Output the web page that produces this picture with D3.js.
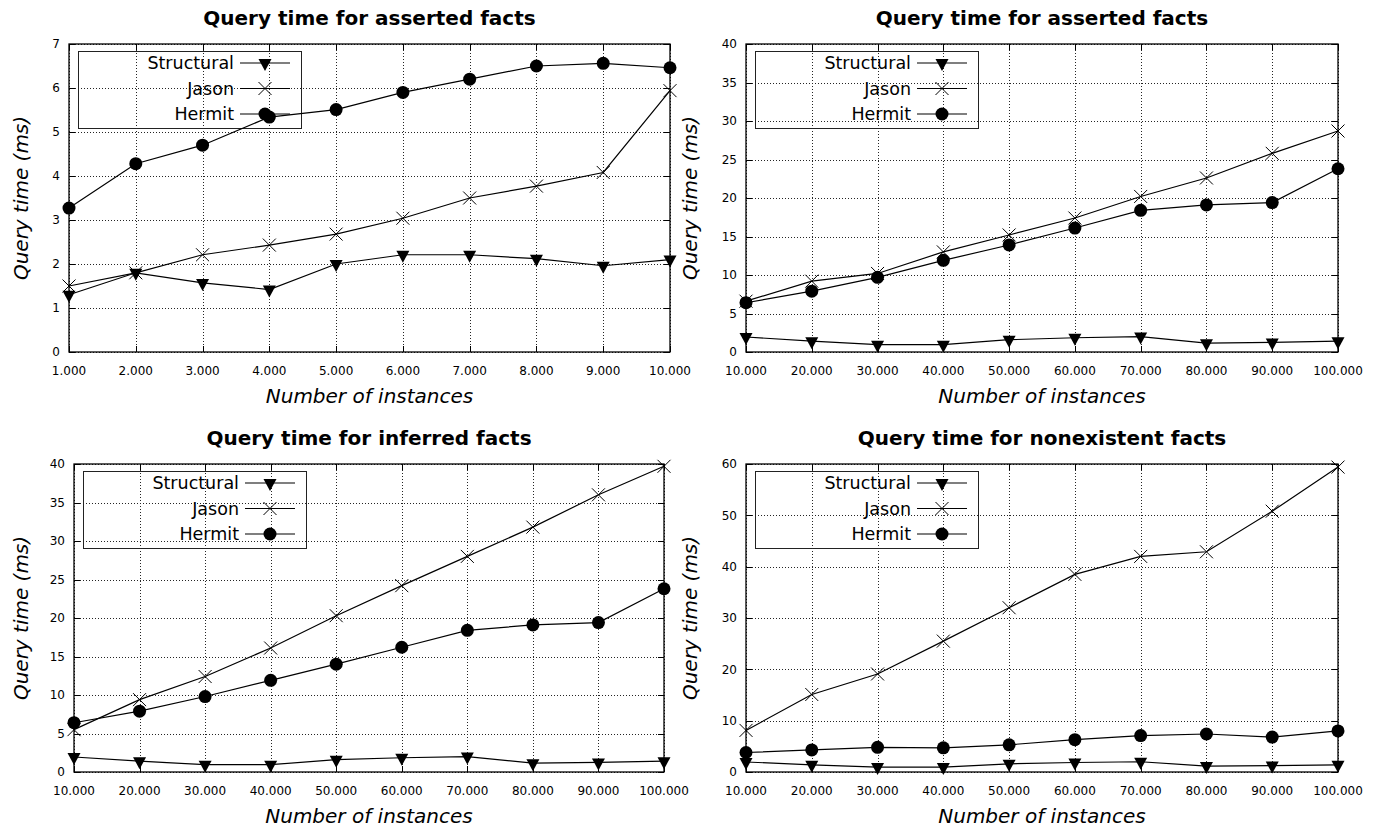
<!DOCTYPE html>
<html>
<head>
<meta charset="utf-8">
<script src="https://cdn.jsdelivr.net/npm/d3@7"></script>
<style>
  html, body { margin: 0; padding: 0; background: #fff; }
  svg { display: block; font-family: "DejaVu Sans", sans-serif; }
</style>
</head>
<body>
<svg id="chart" width="1379" height="827"></svg>
<script>
// ---------------- data ----------------
const seriesNames = ["Structural", "Jason", "Hermit"];

const xValuesSmall = [1000, 2000, 3000, 4000, 5000, 6000, 7000, 8000, 9000, 10000];
const xTickLabelsSmall = ["1.000", "2.000", "3.000", "4.000", "5.000", "6.000", "7.000", "8.000", "9.000", "10.000"];
const xValuesLarge = [10000, 20000, 30000, 40000, 50000, 60000, 70000, 80000, 90000, 100000];
const xTickLabelsLarge = ["10.000", "20.000", "30.000", "40.000", "50.000", "60.000", "70.000", "80.000", "90.000", "100.000"];

// Panel 1: Query time for asserted facts (1.000 - 10.000)
const structuralAsserted1 = [1.3, 1.8, 1.57, 1.42, 2.0, 2.21, 2.21, 2.12, 1.96, 2.1];
const jasonAsserted1      = [1.5, 1.8, 2.21, 2.43, 2.68, 3.04, 3.5, 3.77, 4.08, 5.94];
const hermitAsserted1     = [3.27, 4.28, 4.7, 5.34, 5.51, 5.9, 6.2, 6.5, 6.56, 6.46];

// Panel 2: Query time for asserted facts (10.000 - 100.000)
const structuralAsserted2 = [1.95, 1.4, 0.95, 0.95, 1.6, 1.85, 2.0, 1.15, 1.25, 1.4];
const jasonAsserted2      = [6.6, 9.2, 10.2, 13.0, 15.2, 17.4, 20.2, 22.6, 25.8, 28.7];
const hermitAsserted2     = [6.4, 7.9, 9.7, 11.9, 13.9, 16.1, 18.4, 19.1, 19.4, 23.8];

// Panel 3: Query time for inferred facts
const structuralInferred = [1.95, 1.4, 0.95, 0.95, 1.6, 1.85, 2.0, 1.15, 1.25, 1.4];
const jasonInferred      = [5.5, 9.4, 12.4, 16.1, 20.3, 24.2, 28.0, 31.8, 36.0, 39.7];
const hermitInferred     = [6.4, 7.9, 9.8, 11.9, 14.0, 16.2, 18.4, 19.1, 19.4, 23.8];

// Panel 4: Query time for nonexistent facts
const structuralNonexistent = [1.95, 1.4, 0.95, 0.95, 1.6, 1.85, 2.0, 1.15, 1.25, 1.4];
const jasonNonexistent      = [8.1, 15.1, 19.1, 25.5, 32.0, 38.5, 42.0, 42.9, 50.8, 59.4];
const hermitNonexistent     = [3.8, 4.3, 4.8, 4.7, 5.3, 6.3, 7.1, 7.4, 6.8, 8.0];

const titles = ["Query time for asserted facts", "Query time for asserted facts",
                "Query time for inferred facts", "Query time for nonexistent facts"];
const yMaxes = [7, 40, 40, 60];
const ySteps = [1, 5, 5, 10];
const xLabelText = "Number of instances";
const yLabelText = "Query time (ms)";

// ---------------- layout ----------------
const panels = [
  { left: 69,  right: 670,  top: 44,  bottom: 352, ylabX: 28,  xs: xValuesSmall, xl: xTickLabelsSmall,
    series: [structuralAsserted1, jasonAsserted1, hermitAsserted1] },
  { left: 746, right: 1338, top: 44,  bottom: 352, ylabX: 697, xs: xValuesLarge, xl: xTickLabelsLarge,
    series: [structuralAsserted2, jasonAsserted2, hermitAsserted2] },
  { left: 74,  right: 664,  top: 464, bottom: 772, ylabX: 28,  xs: xValuesLarge, xl: xTickLabelsLarge,
    series: [structuralInferred, jasonInferred, hermitInferred] },
  { left: 746, right: 1338, top: 464, bottom: 772, ylabX: 697, xs: xValuesLarge, xl: xTickLabelsLarge,
    series: [structuralNonexistent, jasonNonexistent, hermitNonexistent] }
];

const svg = d3.select("#chart");

function drawMarker(g, type, x, y) {
  if (type === 0) {
    // filled triangle pointing down, centroid at (x,y)
    const w = 6.5, h = 12;
    g.append("path")
      .attr("d", `M${x - w},${y - h / 3}L${x + w},${y - h / 3}L${x},${y + 2 * h / 3}Z`)
      .attr("fill", "#000");
  } else if (type === 1) {
    const s = 6.5;
    g.append("path")
      .attr("d", `M${x - s},${y - s}L${x + s},${y + s}M${x - s},${y + s}L${x + s},${y - s}`)
      .attr("stroke", "#000").attr("stroke-width", 1).attr("fill", "none");
  } else {
    g.append("circle").attr("cx", x).attr("cy", y).attr("r", 6.5).attr("fill", "#000");
  }
}

panels.forEach((p, i) => {
  const g = svg.append("g");
  const x = d3.scaleLinear().domain([p.xs[0], p.xs[p.xs.length - 1]]).range([p.left, p.right]);
  const y = d3.scaleLinear().domain([0, yMaxes[i]]).range([p.bottom, p.top]);
  const yTicks = d3.range(0, yMaxes[i] + ySteps[i] / 2, ySteps[i]);

  // grid
  const grid = g.append("g").attr("stroke", "#000").attr("stroke-width", 1)
    .attr("stroke-dasharray", "1,2").attr("opacity", 0.85);
  p.xs.forEach(v => grid.append("line")
    .attr("x1", Math.round(x(v)) + 0.5).attr("x2", Math.round(x(v)) + 0.5)
    .attr("y1", p.top).attr("y2", p.bottom));
  yTicks.forEach(v => grid.append("line")
    .attr("y1", Math.round(y(v)) + 0.5).attr("y2", Math.round(y(v)) + 0.5)
    .attr("x1", p.left).attr("x2", p.right));

  // ticks (inward, mirrored)
  const tl = 6;
  const ticks = g.append("g").attr("stroke", "#000").attr("stroke-width", 1);
  p.xs.forEach(v => {
    const xx = Math.round(x(v)) + 0.5;
    ticks.append("line").attr("x1", xx).attr("x2", xx).attr("y1", p.bottom).attr("y2", p.bottom - tl);
    ticks.append("line").attr("x1", xx).attr("x2", xx).attr("y1", p.top).attr("y2", p.top + tl);
  });
  yTicks.forEach(v => {
    const yy = Math.round(y(v)) + 0.5;
    ticks.append("line").attr("y1", yy).attr("y2", yy).attr("x1", p.left).attr("x2", p.left + tl);
    ticks.append("line").attr("y1", yy).attr("y2", yy).attr("x1", p.right).attr("x2", p.right - tl);
  });

  // border
  g.append("rect").attr("x", p.left).attr("y", p.top)
    .attr("width", p.right - p.left).attr("height", p.bottom - p.top)
    .attr("fill", "none").attr("stroke", "#000").attr("stroke-width", 1.3);

  // tick labels
  p.xs.forEach((v, k) => g.append("text")
    .attr("x", x(v)).attr("y", p.bottom + 23)
    .attr("text-anchor", "middle").attr("font-size", 12).attr("fill", "#000")
    .text(p.xl[k]));
  yTicks.forEach(v => g.append("text")
    .attr("x", p.left - 9).attr("y", y(v)).attr("dy", "0.36em")
    .attr("text-anchor", "end").attr("font-size", 12).attr("fill", "#000")
    .text(d3.format("d")(v)));

  // title
  g.append("text").attr("x", (p.left + p.right) / 2).attr("y", p.top - 19)
    .attr("text-anchor", "middle").attr("font-size", 20).attr("font-weight", "bold")
    .text(titles[i]);

  // axis labels
  g.append("text").attr("x", (p.left + p.right) / 2).attr("y", p.bottom + 51)
    .attr("text-anchor", "middle").attr("font-size", 20).attr("font-style", "italic")
    .text(xLabelText);
  g.append("text")
    .attr("transform", `translate(${p.ylabX},${(p.top + p.bottom) / 2}) rotate(-90)`)
    .attr("text-anchor", "middle").attr("font-size", 20).attr("font-style", "italic")
    .text(yLabelText);

  // legend box
  const lx = p.left + 9, ly = p.top + 7;
  g.append("rect").attr("x", lx + 0.5).attr("y", ly + 0.5).attr("width", 223).attr("height", 77)
    .attr("fill", "none").attr("stroke", "#222").attr("stroke-width", 1);
  seriesNames.forEach((name, s) => {
    const ry = ly + 12 + s * 25.5;
    g.append("text").attr("x", p.left + 165).attr("y", ry).attr("dy", "0.36em")
      .attr("text-anchor", "end").attr("font-size", 17.5).text(name);
    g.append("line").attr("x1", p.left + 171).attr("x2", p.left + 221)
      .attr("y1", ry).attr("y2", ry).attr("stroke", "#000").attr("stroke-width", 1.2);
    drawMarker(g, s, p.left + 196, ry);
  });

  // series
  const line = d3.line().x((d, k) => x(p.xs[k])).y(d => y(d));
  p.series.forEach((vals, s) => {
    g.append("path").attr("d", line(vals)).attr("fill", "none")
      .attr("stroke", "#000").attr("stroke-width", 1.2);
    vals.forEach((v, k) => drawMarker(g, s, x(p.xs[k]), y(v)));
  });
});
</script>
</body>
</html>
